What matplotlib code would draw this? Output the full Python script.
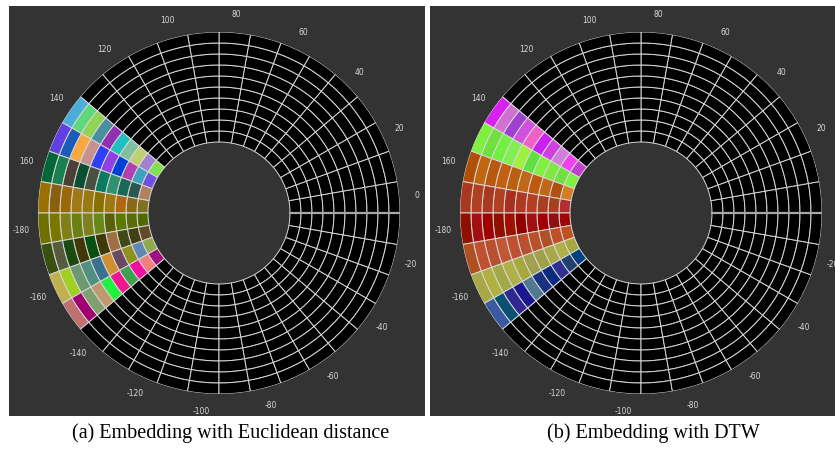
import numpy as np
import matplotlib.pyplot as plt
from matplotlib.patches import Rectangle

# angular sectors (degrees, start of each 10 deg sector) that carry colours
colored_sectors = [140, 150, 160, 170, 180, 190, 200, 210]
n_rings = 10
r_inner = 71
ring_w = 11

# cell colours per sector, outer ring -> inner ring
euclid_colors = [
    ["#4aaed8", "#5ed87a", "#8fd455", "#4a8fa0", "#9030b0", "#20c0c0", "#80c09a", "#c0d070", "#a080d0", "#80e050"],
    ["#6040e0", "#1a5cb8", "#f8a840", "#c89090", "#3040f8", "#9040e0", "#0040d8", "#b040b0", "#40a0c0", "#7050e0"],
    ["#006838", "#1a8050", "#4a4038", "#0a5030", "#4a5040", "#0a7a60", "#309070", "#1a6858", "#2a5850", "#b08060"],
    ["#9a7000", "#8a6010", "#9a6808", "#a07818", "#987a10", "#8a7000", "#a07810", "#b06810", "#8a6818", "#807020"],
    ["#707000", "#787800", "#808018", "#6a8010", "#808020", "#6a8818", "#5a6008", "#5a7a00", "#5a6a08", "#506a00"],
    ["#3a5010", "#585a40", "#1a4a10", "#403808", "#0a5010", "#403808", "#a07040", "#404a18", "#404010", "#604a28"],
    ["#c0b050", "#a0d020", "#709870", "#509080", "#3a7090", "#d09030", "#6a4a60", "#909020", "#6088b0", "#90a850"],
    ["#c07070", "#a00070", "#80a070", "#c09870", "#20f040", "#f01890", "#40a050", "#f010a0", "#f08080", "#a01080"],
]
dtw_colors = [
    ["#d820f0", "#d070d0", "#a040d0", "#d050e0", "#f060c8", "#c820f0", "#d040e0", "#d080d8", "#f040f0", "#c040d0"],
    ["#80f040", "#70e040", "#70f040", "#80f050", "#a0f040", "#60e040", "#80f040", "#80e840", "#70e040", "#80f040"],
    ["#b05008", "#c06810", "#b85810", "#c06010", "#b86010", "#c06818", "#c05810", "#c06818", "#b05010", "#d08020"],
    ["#a83820", "#b04020", "#a83820", "#b04020", "#a83020", "#b03820", "#b04020", "#a84020", "#a84020", "#b03030"],
    ["#901000", "#a01010", "#a00000", "#901000", "#a01000", "#900000", "#a01010", "#a00000", "#901010", "#a00808"],
    ["#b05020", "#c05030", "#b85030", "#c05838", "#c05030", "#b85030", "#b85028", "#b05028", "#c05028", "#c05020"],
    ["#a8a848", "#b0b040", "#a0a848", "#b0b048", "#a8a840", "#a0a050", "#a0a048", "#a8a848", "#b0b048", "#a8a840"],
    ["#3a5aa0", "#0a5070", "#302890", "#1a1890", "#507890", "#1a3080", "#0a2a80", "#303090", "#204070", "#004080"],
]

tick_values = [0, 20, 40, 60, 80, 100, 120, 140, 160, -180, -160, -140, -120, -100, -80, -60, -40, -20]
captions = ["(a) Embedding with Euclidean distance", "(b) Embedding with DTW"]

W, H = 835, 449
BG = "#333333"
GRID = "#d8d8d8"

fig = plt.figure(figsize=(W / 100, H / 100), dpi=100)
fig.patch.set_facecolor("white")

# dark panels (pixel coords -> figure fraction)
panels = [(9, 6, 425, 416), (430, 6, 835, 416)]
for x0, y0, x1, y1 in panels:
    fig.patches.append(Rectangle((x0 / W, 1 - y1 / H), (x1 - x0) / W, (y1 - y0) / H,
                                 transform=fig.transFigure, facecolor=BG, edgecolor="none", zorder=-5))

centers = [(219, 213), (641, 213)]
r_outer = r_inner + n_rings * ring_w
sector_starts = np.arange(0, 360, 10)

for (cx, cy), colors, cap, cap_x in zip(centers, [euclid_colors, dtw_colors], captions, [231, 653]):
    ax = fig.add_axes([(cx - r_outer) / W, (H - cy - r_outer) / H, 2 * r_outer / W, 2 * r_outer / H],
                      projection="polar")
    ax.set_facecolor("none")
    ax.set_ylim(0, r_outer)
    ax.set_axis_off()
    ax.set_zorder(2)

    for s in sector_starts:
        for ring in range(n_rings):
            face = "black"
            if s in colored_sectors:
                face = colors[colored_sectors.index(s)][n_rings - 1 - ring]
            ax.bar(np.deg2rad(s), ring_w, width=np.deg2rad(10), bottom=r_inner + ring * ring_w,
                   align="edge", color=face, edgecolor=GRID, linewidth=0.7)

    ax.plot([0, 0], [r_inner, r_outer], color="#a8a8a8", lw=1.6, zorder=5)

    for v in tick_values:
        ax.text(np.deg2rad(v + 5), 199, str(v), ha="center", va="center",
                fontsize=5.5, color="#d8d8d8", clip_on=False)

    fig.text(cap_x / W, 1 - 433 / H, cap, ha="center", va="center",
             fontsize=14.5, family="Liberation Serif", color="black")

fig.savefig("out.png", dpi=100)
